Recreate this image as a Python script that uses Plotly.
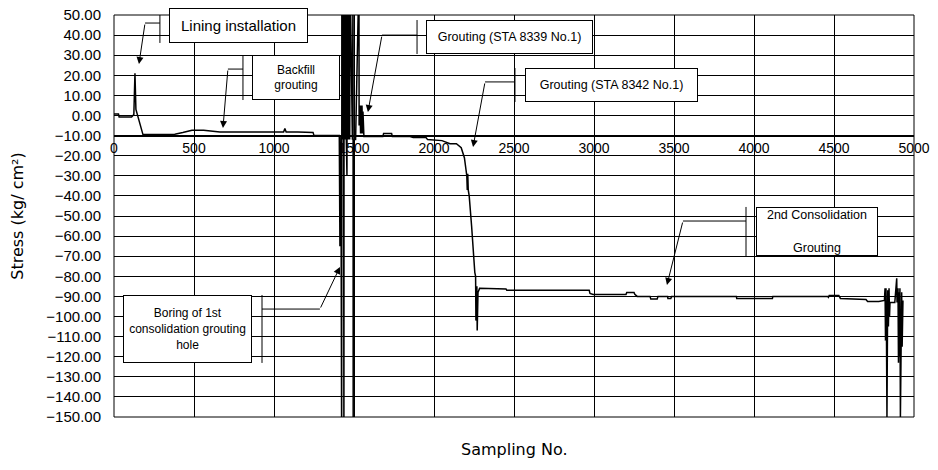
import plotly.graph_objects as go

# ---------------- data ----------------
sample_no = [
    0, 28, 32, 110, 124, 131, 137, 181, 250, 300, 380, 430, 487, 560, 662, 760, 900, 1060, 1068, 1076, 1150, 1244, 1250, 1400,
    1408, 1412, 1414, 1418,
    1423, 1424, 1426, 1428, 1431, 1434, 1437, 1438, 1440, 1443, 1446, 1449, 1452, 1455, 1456, 1458, 1461, 1464, 1467, 1470, 1473, 1476,
    1490, 1494, 1495, 1496, 1510, 1531, 1532, 1538, 1541, 1544, 1547, 1550, 1553, 1556, 1562,
    1680, 1685, 1735, 1740, 1850, 1870, 1950, 1960, 2050, 2100, 2140, 2170, 2190, 2200, 2205, 2208, 2211, 2214, 2220, 2235, 2245, 2255,
    2260, 2262, 2264, 2266, 2268, 2270, 2275, 2285,
    2450, 2455, 2970, 2975, 2995, 3200, 3205, 3250, 3255, 3270, 3350, 3355, 3395, 3400, 3460, 3462, 3480, 3485,
    3890, 3892, 4115, 4118, 4460, 4465, 4470, 4530, 4540, 4700, 4710, 4780, 4815,
    4819, 4822, 4825, 4828, 4831, 4835, 4836, 4840, 4844, 4847, 4850, 4880, 4892, 4894,
    4900, 4903, 4906, 4909, 4912, 4915, 4919, 4920, 4923, 4926, 4931,
]
stress = [
    0.7, 0.7, -0.7, -0.7, 0.5, 21, 3, -9.5, -9.5, -9.3, -9.3, -8.5, -7.3, -7.3, -8.2, -8.2, -8.2, -8.2, -6.5, -8.2, -8.2, -8.4, -10, -10,
    -10, -65, -57, -10,
    -170, 70, -12, 70, -12, 70, -170, 70, -12, 70, -12, 70, -12, 70, -30, 70, -12, 70, -12, 70, -12, 70,
    -12, 70, -170, -12, -12, 70, -5, 5, -9, 5, -9, 5, -9, 2, -10.5,
    -10.5, -9, -9, -10.5, -10.5, -11, -11, -12, -12.5, -14, -14, -16, -21, -27, -30, -37, -29, -37, -40, -55, -68, -78,
    -80, -102, -82, -100, -85, -107, -88, -86,
    -86.3, -87, -87, -88.5, -89, -89, -88, -88, -89, -90, -90, -91.3, -91.3, -90, -90, -91, -91, -90,
    -90, -91, -91, -90, -90, -90.5, -89.5, -89.5, -91, -91.5, -92.5, -92.5, -92,
    -86, -112, -86, -110, -150, -95, -87, -105, -86, -100, -93, -93, -81, -93,
    -86, -123, -88, -120, -86, -150, -95, -122, -88, -115, -92,
]

x_ticks = [0, 500, 1000, 1500, 2000, 2500, 3000, 3500, 4000, 4500, 5000]
x_tick_labels = [str(v) for v in x_ticks]

# callout boxes: text, centre (data), size (px), font size
callout_text = [
    "Lining installation",
    "Backfill<br>grouting",
    "Grouting (STA 8339 No.1)",
    "Grouting (STA 8342 No.1)",
    "Boring of 1st<br>consolidation grouting<br>hole",
    "2nd Consolidation<br><br>Grouting",
]
callout_x = [778, 1137, 2472, 3109, 459, 4394]
callout_y = [44.8, 18.9, 39.0, 15.2, -106.2, -57.7]
callout_w = [137, 86, 165, 171, 127, 120]
callout_h = [33, 43, 32, 32, 66, 47]
callout_fs = [15, 12, 12.5, 12.5, 12, 12.5]
# leader: accent-bar x, bar y top/bottom, elbow x, elbow y, arrow tip x, y
bar_x = [287, 806, 1894, 2506, 925, 3950]
bar_y0 = [52.5, 30.1, 47.5, 23.6, -89.3, -45.5]
bar_y1 = [36.1, 7.7, 30.6, 6.7, -123.1, -69.9]
elbow_x = [194, 712, 1675, 2319, 1287, 3556]
elbow_y = [46.0, 23.1, 40.0, 16.7, -96.3, -52.5]
tip_x = [156, 681, 1587, 2244, 1412, 3456]
tip_y = [25.6, -6.2, 1.7, -15.7, -75.4, -84.3]

# ---------------- figure ----------------
fig = go.Figure()
fig.add_trace(go.Scatter(
    x=sample_no, y=stress, mode="lines",
    line=dict(color="black", width=1.5), showlegend=False, hoverinfo="skip",
))

box_font = "Liberation Sans, Arial"
shapes = [dict(type="rect", xref="paper", yref="paper", x0=0, x1=1, y0=0, y1=1,
               line=dict(color="black", width=1), layer="above")]
annotations = []
for i in range(len(callout_text)):
    shapes.append(dict(type="line", xref="x", yref="y", x0=bar_x[i], x1=bar_x[i],
                       y0=bar_y0[i], y1=bar_y1[i], line=dict(color="black", width=1), layer="above"))
    shapes.append(dict(type="line", xref="x", yref="y", x0=bar_x[i], x1=elbow_x[i],
                       y0=elbow_y[i], y1=elbow_y[i], line=dict(color="black", width=1), layer="above"))
    annotations.append(dict(x=tip_x[i], y=tip_y[i], ax=elbow_x[i], ay=elbow_y[i],
                            xref="x", yref="y", axref="x", ayref="y", text="",
                            showarrow=True, arrowhead=2, arrowsize=1.4, arrowwidth=1,
                            arrowcolor="black"))
    annotations.append(dict(x=callout_x[i], y=callout_y[i], xref="x", yref="y",
                            text=callout_text[i], showarrow=False, xanchor="center", yanchor="middle",
                            width=callout_w[i], height=callout_h[i], align="center",
                            bgcolor="white", bordercolor="black", borderwidth=1, borderpad=0,
                            font=dict(family=box_font, size=callout_fs[i], color="black")))

annotations.append(dict(x=0.5, y=-0.082, xref="paper", yref="paper", text="Sampling No.",
                        showarrow=False, xanchor="center", yanchor="middle",
                        font=dict(family="DejaVu Sans", size=16, color="black")))

fig.update_layout(
    width=938, height=470,
    margin=dict(l=114, r=24, t=15, b=53),
    paper_bgcolor="white", plot_bgcolor="white",
    shapes=shapes, annotations=annotations,
    xaxis=dict(range=[0, 5000], tickvals=x_ticks, ticktext=x_tick_labels, automargin=False,
               showgrid=True, gridcolor="black", gridwidth=1, zeroline=False,
               anchor="free", position=0.7, showline=True, linecolor="black", linewidth=1,
               ticks="", tickfont=dict(family="Liberation Sans, Arial", size=14, color="black")),
    yaxis=dict(range=[-150, 50], dtick=10, tick0=0, tickformat=".2f", automargin=False,
               showgrid=True, gridcolor="black", gridwidth=1, zeroline=False,
               showline=False, ticks="", ticklabelstandoff=12,
               tickfont=dict(family="Liberation Sans, Arial", size=15, color="black"),
               title=dict(text="Stress (kg/ cm²)", standoff=18,
                          font=dict(family="DejaVu Sans", size=16, color="black"))),
)

fig.write_html("out.html", config={"displayModeBar": False},
               post_script="document.body.style.margin='0px';")
